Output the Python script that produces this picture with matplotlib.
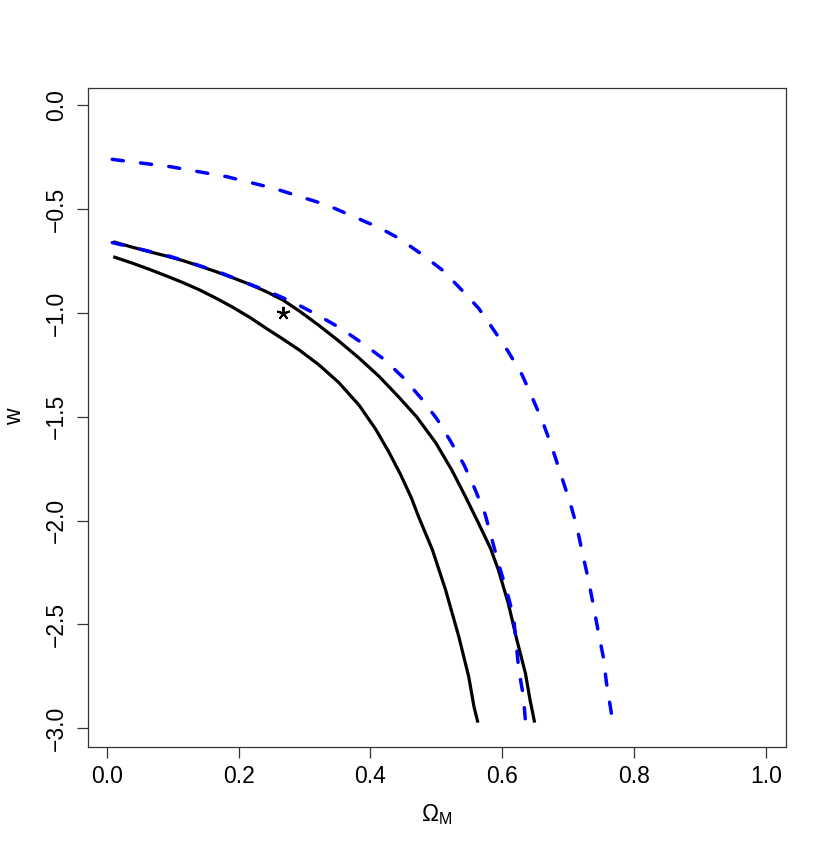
import numpy as np
import matplotlib.pyplot as plt

plt.rcParams['font.family'] = ['Liberation Sans', 'DejaVu Sans']
plt.rcParams['mathtext.fontset'] = 'custom'
plt.rcParams['mathtext.rm'] = 'Liberation Sans'
plt.rcParams['mathtext.it'] = 'Liberation Sans'

# contours (Omega_M, w)
inner_solid_x = [0.010, 0.040, 0.065, 0.091, 0.116, 0.141, 0.166, 0.191, 0.217, 0.242, 0.267,
                 0.292, 0.322, 0.352, 0.383, 0.408, 0.428, 0.446, 0.462, 0.473, 0.494, 0.514,
                 0.534, 0.549, 0.557, 0.563]
inner_solid_y = [-0.729, -0.761, -0.790, -0.822, -0.854, -0.889, -0.929, -0.972, -1.021, -1.074, -1.125,
                 -1.178, -1.250, -1.335, -1.445, -1.560, -1.670, -1.780, -1.890, -1.981, -2.141, -2.334,
                 -2.559, -2.751, -2.896, -2.973]

outer_solid_x = [0.010, 0.040, 0.065, 0.091, 0.116, 0.141, 0.166, 0.191, 0.217, 0.242, 0.267,
                 0.292, 0.322, 0.352, 0.382, 0.413, 0.443, 0.470, 0.499, 0.524, 0.544, 0.564,
                 0.582, 0.594, 0.609, 0.622, 0.635, 0.642, 0.649]
outer_solid_y = [-0.657, -0.684, -0.705, -0.726, -0.748, -0.774, -0.801, -0.830, -0.862, -0.897, -0.937,
                 -0.990, -1.060, -1.135, -1.215, -1.305, -1.405, -1.500, -1.625, -1.760, -1.884, -2.013,
                 -2.133, -2.237, -2.398, -2.574, -2.735, -2.863, -2.973]

inner_dash_x = [0.0085, 0.057, 0.098, 0.138, 0.173, 0.211, 0.246, 0.284, 0.320, 0.355, 0.388,
                0.421, 0.450, 0.477, 0.501, 0.521, 0.542, 0.559, 0.574, 0.594, 0.607, 0.617,
                0.625, 0.632, 0.635]
inner_dash_y = [-0.661, -0.697, -0.729, -0.769, -0.806, -0.854, -0.897, -0.950, -1.010, -1.074, -1.146,
                -1.224, -1.312, -1.411, -1.511, -1.615, -1.732, -1.852, -1.970, -2.205, -2.342, -2.462,
                -2.719, -2.847, -2.963]

outer_dash_x = [0.0085, 0.098, 0.183, 0.254, 0.334, 0.414, 0.443, 0.476, 0.509, 0.536, 0.564,
                0.587, 0.609, 0.630, 0.647, 0.662, 0.675, 0.703, 0.713, 0.721, 0.730, 0.738,
                0.745, 0.753, 0.758, 0.765, 0.766]
outer_dash_y = [-0.260, -0.296, -0.344, -0.400, -0.480, -0.590, -0.640, -0.713, -0.793, -0.881, -0.977,
                -1.082, -1.186, -1.298, -1.419, -1.531, -1.644, -1.916, -2.029, -2.149, -2.277, -2.406,
                -2.526, -2.655, -2.783, -2.920, -2.950]

star_x, star_y = 0.268, -1.0

fig = plt.figure(figsize=(8.3, 8.56), dpi=100)
ax = fig.add_axes([0.1057, 0.1277, 0.9466 - 0.1057, 0.8975 - 0.1277])

ax.plot(inner_solid_x, inner_solid_y, color='black', lw=2.3, solid_capstyle='butt', solid_joinstyle='round')
ax.plot(outer_solid_x, outer_solid_y, color='black', lw=2.3, solid_capstyle='butt', solid_joinstyle='round')
ax.plot(inner_dash_x, inner_dash_y, color='blue', lw=2.5, dashes=(3.2, 5.0), dash_capstyle='round')
ax.plot(outer_dash_x, outer_dash_y, color='blue', lw=2.5, dashes=(3.2, 5.0), dash_capstyle='round')
ax.plot([star_x], [star_y], marker=(5, 2, 0), ms=9.5, mew=1.4, color='black', ls='none')

ax.set_xlim(-0.0287, 1.0297)
ax.set_ylim(-3.089, 0.085)
ax.set_xticks([0.0, 0.2, 0.4, 0.6, 0.8, 1.0])
ax.set_xticklabels(['0.0', '0.2', '0.4', '0.6', '0.8', '1.0'])
ax.set_yticks([0.0, -0.5, -1.0, -1.5, -2.0, -2.5, -3.0])
ax.set_yticklabels(['0.0', '\u22120.5', '\u22121.0', '\u22121.5', '\u22122.0', '\u22122.5', '\u22123.0'],
                   rotation=90, va='center')
ax.tick_params(axis='both', length=8, width=0.9, labelsize=16.5, color='#333333')
ax.tick_params(axis='x', pad=5)
ax.tick_params(axis='y', pad=6)
for s in ax.spines.values():
    s.set_color('#333333')
    s.set_linewidth(0.9)

ax.set_xlabel('$\\Omega_\\mathrm{M}$', fontsize=16.5, labelpad=10)
ax.set_ylabel('w', fontsize=16.5, labelpad=14)

fig.savefig('out.png', dpi=100)
